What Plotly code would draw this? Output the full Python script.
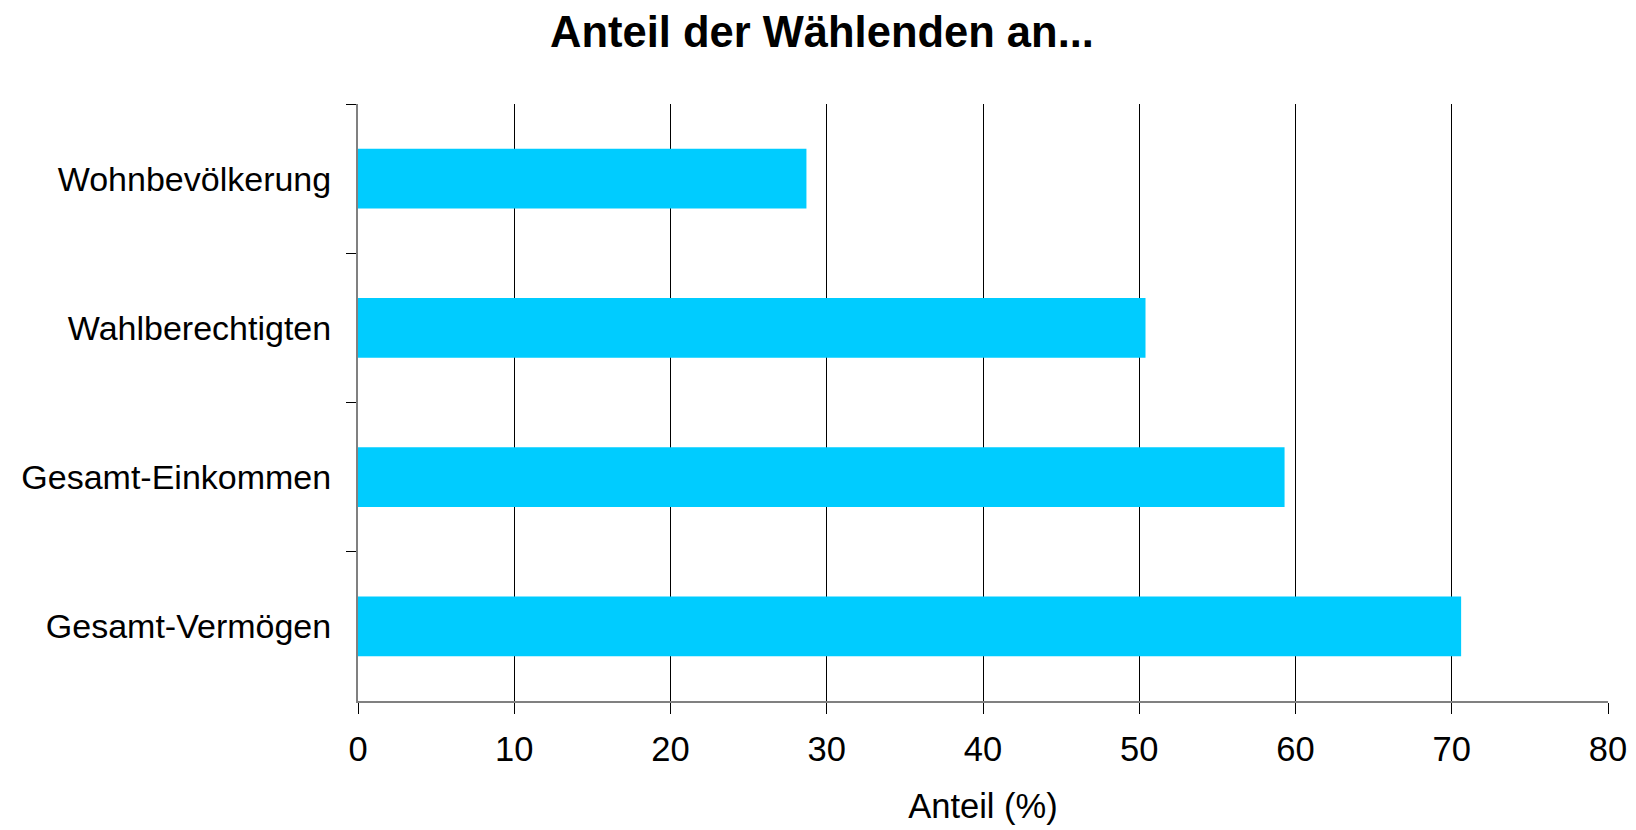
import plotly.graph_objects as go

categories = ["Wohnbevölkerung", "Wahlberechtigten", "Gesamt-Einkommen", "Gesamt-Vermögen"]
values = [28.7, 50.4, 59.3, 70.6]
x_ticks = [0, 10, 20, 30, 40, 50, 60, 70, 80]

fig = go.Figure(go.Bar(
    y=categories, x=values, orientation="h",
    marker=dict(color="#00CCFF", line=dict(width=0)),
    width=0.4,
))

font = "Liberation Sans, Arial, sans-serif"
W, H = 1628, 822
fig.update_layout(
    width=W, height=H,
    margin=dict(l=350, r=28, t=96, b=129),
    paper_bgcolor="white", plot_bgcolor="white",
    title=dict(text="<b>Anteil der Wählenden an...</b>", x=0.5, xanchor="center",
               y=(H - 39) / H, yanchor="bottom", yref="container",
               font=dict(family=font, size=43.5, color="black")),
    font=dict(family=font, color="black"),
    showlegend=False,
    bargap=0.6,
)
fig.update_xaxes(
    range=[0, 80], tickvals=x_ticks, ticktext=[str(v) for v in x_ticks],
    showgrid=True, gridcolor="#000000", gridwidth=1,
    showline=True, linecolor="#808080", linewidth=2,
    ticks="outside", ticklen=11, tickcolor="#000000", tickwidth=1,
    ticklabelstandoff=6,
    tickfont=dict(family=font, size=34.5, color="black"),
    title=dict(text="Anteil (%)", font=dict(family=font, size=34.5, color="black"), standoff=26),
    zeroline=False, automargin=False,
)
fig.update_yaxes(
    categoryorder="array", categoryarray=categories, autorange=False, range=[3.5, -0.5],
    showgrid=False, showline=True, linecolor="#808080", linewidth=2,
    ticks="outside", tickson="boundaries", ticklen=10, tickcolor="#000000", tickwidth=1,
    ticklabelstandoff=18,
    tickfont=dict(family=font, size=34, color="black"),
    zeroline=False, automargin=False,
)
fig.write_html("out.html")
